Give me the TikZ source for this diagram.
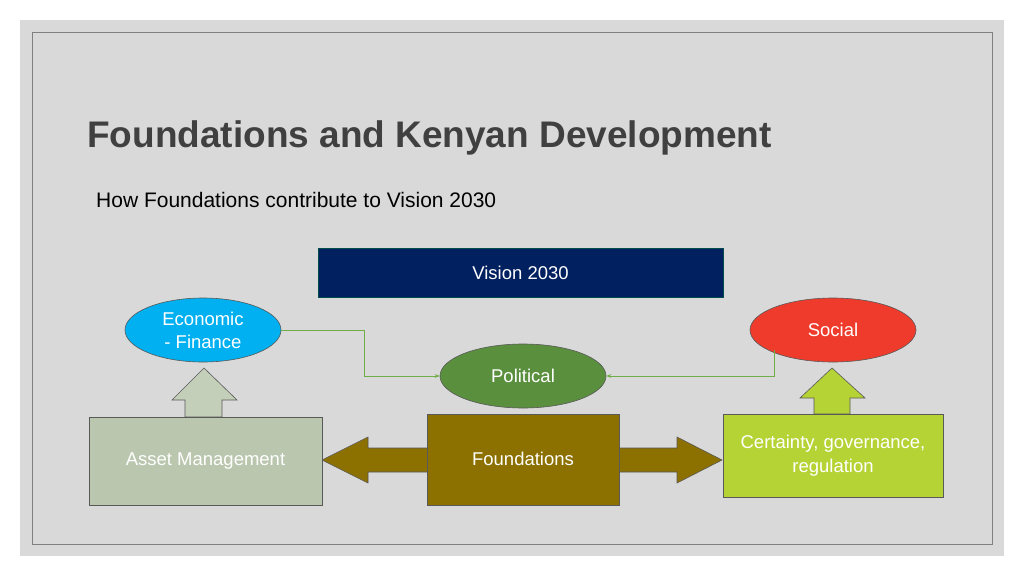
\documentclass[tikz,border=0pt]{standalone}
\usepackage{fontspec}
\setmainfont{Liberation Sans}
\usetikzlibrary{shapes.geometric,arrows.meta}
\definecolor{bg}{HTML}{D9D9D9}
\definecolor{navy}{HTML}{002060}
\definecolor{sky}{HTML}{00B0F0}
\definecolor{redd}{HTML}{EE3B2B}
\definecolor{grn}{HTML}{5A8F3E}
\definecolor{olive}{HTML}{8C7000}
\definecolor{lime}{HTML}{B5D334}
\definecolor{sage}{HTML}{BAC7AE}
\definecolor{conn}{HTML}{70AD47}
\tikzset{
 ell/.style={ellipse,draw=gray!70!black,line width=0.6pt,text=white,font=\fontsize{18.5}{23}\selectfont,align=center,inner sep=0pt},
 lbl/.style={text=white,font=\fontsize{18.5}{24}\selectfont,align=center},
 conn/.style={draw=conn,line width=0.6pt,-{Stealth[length=5pt]}},
 blk/.style={draw=gray!70!black,line width=0.6pt}
}
\begin{document}
\begin{tikzpicture}[x=1pt,y=-1pt]
\useasboundingbox (0,0) rectangle (1024,576);
\fill[white] (0,0) rectangle (1024,576);
\fill[bg] (20,20) rectangle (1004,556);
\draw[gray,line width=0.6pt] (32,32) rectangle (992,544);
\node[anchor=west,text=black!75,font=\bfseries\fontsize{37}{42}\selectfont,inner sep=0pt] (title) at (87,138) {Foundations and Kenyan Development};
\node[anchor=west,font=\fontsize{21}{24}\selectfont,inner sep=0pt] (sub) at (96,200) {How Foundations contribute to Vision 2030};
\node[draw=teal!60!black,fill=navy,minimum width=405pt,minimum height=49pt,lbl] (vision) at (520.5,272.5) {Vision 2030};
% big double arrow
\filldraw[fill=olive,blk] (322,460) -- (368,437) -- (368,448) -- (677,448) -- (677,437) -- (722,460) -- (677,483) -- (677,472) -- (368,472) -- (368,483) -- cycle;
% up arrows
\filldraw[fill=sage!85!white,blk] (185,417) -- (185,400) -- (172,400) -- (204,368) -- (237,400) -- (222,400) -- (222,417) -- cycle;
\filldraw[fill=lime,blk] (814,414) -- (814,398) -- (800,398) -- (832,368) -- (865,398) -- (850,398) -- (850,414) -- cycle;
\node[blk,fill=sage,minimum width=233pt,minimum height=88pt,lbl] (asset) at (205.5,461) {Asset Management};
\node[blk,fill=olive,minimum width=192pt,minimum height=91pt,lbl] (found) at (523,459.5) {};
\node[lbl] (foundt) at (523,459) {Foundations};
\node[blk,fill=lime,minimum width=220pt,minimum height=83pt,lbl] (cert) at (833,455.5) {Certainty, governance,\\regulation};
\node[ell,fill=sky,minimum width=156pt,minimum height=64pt] (econ) at (203,330) {Economic\\- Finance};
\node[ell,fill=redd,minimum width=166pt,minimum height=64pt] (soc) at (833,330) {Social};
\node[ell,fill=grn,minimum width=166pt,minimum height=64pt] (pol) at (523,376) {Political};
\coordinate (e1) at (364,330);
\coordinate (s0) at (774,350);
\draw[conn] (econ.east) -- (e1) |- (pol.west);
\draw[conn] (s0) |- (pol.east);
\end{tikzpicture}
\end{document}
